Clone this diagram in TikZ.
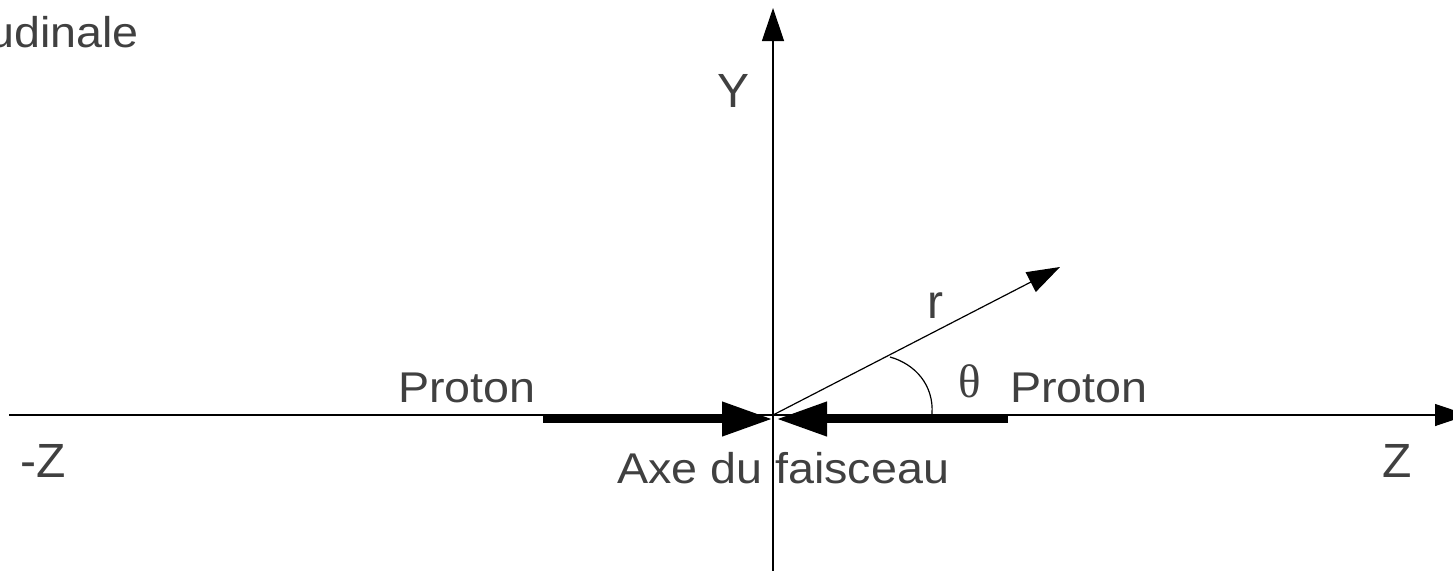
\documentclass[tikz,border=0pt]{standalone}
\usepackage{fontspec}
\setmainfont{Liberation Sans}
\newfontfamily\widefont[FakeStretch=1.085]{Liberation Sans}
\newfontfamily\greekfont{Liberation Serif}
\usetikzlibrary{arrows.meta}

\tikzset{
    axis/.style={line width=1.2pt, -{Triangle[length=33pt, width=22pt]}},
    beam/.style={line width=7.5pt, -{Triangle[length=50pt, width=33pt]}},
    lbl/.style={inner sep=0pt, text=black!75, font=\widefont\fontsize{43}{48}\selectfont},
    axlbl/.style={inner sep=0pt, text=black!75, font=\fontsize{48}{54}\selectfont}
}

\begin{document}
\begin{tikzpicture}[x=1pt, y=-1pt]
    \useasboundingbox (0, 0) rectangle (1453, 570);

    % Axes
    \coordinate (o) at (773, 415);
    \coordinate (zl) at (9, 415);
    \coordinate (zr) at (1468, 415);
    \coordinate (yb) at (773, 575);
    \coordinate (yt) at (773, 8);
    \draw[axis] (zl) -- (zr);
    \draw[axis] (yb) -- (yt);
    \node[axlbl, anchor=base west] (zm) at (20, 477) {-Z};
    \node[axlbl, anchor=base west] (zp) at (1382, 477) {Z};
    \node[axlbl, anchor=base west] (ylab) at (717, 107) {Y};

    % Direction r and angle
    \coordinate (rt) at (1060, 267);
    \draw[axis] (o) -- (rt);
    \node[axlbl, anchor=base west] (rlab) at (927, 318) {r};
    \draw[line width=1.2pt] (890, 357) .. controls (915, 364) and (934, 385) .. (932, 414);
    \node[axlbl, anchor=base west, font=\greekfont\fontsize{47}{52}\selectfont] (th) at (958, 397) {θ};

    % Protons
    \coordinate (pl) at (543, 419);
    \coordinate (pla) at (772, 419);
    \coordinate (pr) at (1008, 419);
    \coordinate (pra) at (777, 419);
    \draw[beam] (pl) -- (pla);
    \draw[beam] (pr) -- (pra);
    \node[lbl, anchor=base west] (p1) at (398, 402) {Proton};
    \node[lbl, anchor=base west] (p2) at (1010, 402) {Proton};
    \node[lbl, anchor=base west] (axe) at (617, 483) {Axe du faisceau};

    % Title
    \node[lbl, anchor=base east] (title) at (139, 47) {udinale};
\end{tikzpicture}
\end{document}
